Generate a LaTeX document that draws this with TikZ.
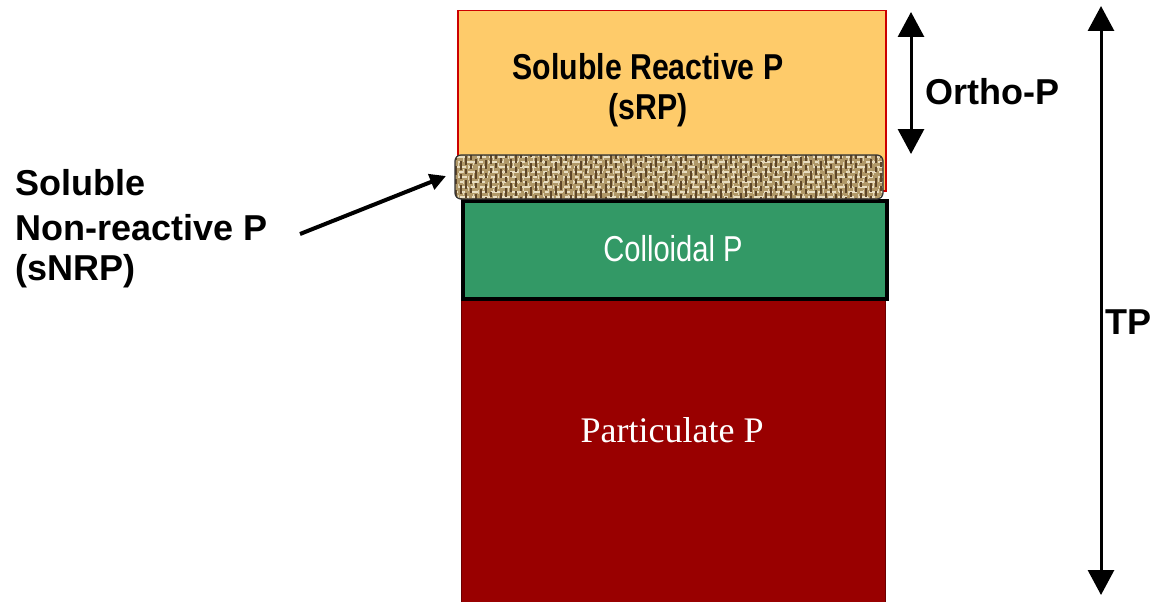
\documentclass[tikz,border=0pt]{standalone}
\usepackage{fontspec}
\setmainfont{Liberation Sans}
\newfontfamily\serifp{Liberation Serif}
\usetikzlibrary{arrows.meta}
\definecolor{srp}{HTML}{FECB6A}
\definecolor{srpedge}{HTML}{CC0000}
\definecolor{coll}{HTML}{339966}
\definecolor{part}{HTML}{990000}
\definecolor{burlap}{HTML}{B09868}
\definecolor{burlapL}{HTML}{EADFC2}
\definecolor{burlapD}{HTML}{5E4628}
\tikzset{
  lbl/.style={font=\bfseries\fontsize{36}{44}\selectfont, inner sep=0pt},
  dimarrow/.style={line width=3pt, {Triangle[width=26pt,length=25pt]}-{Triangle[width=26pt,length=25pt]}},
  ptr/.style={line width=4pt, -{Triangle[width=16pt,length=16pt]}},
}
\begin{document}
\begin{tikzpicture}[x=1pt,y=-1pt]
\useasboundingbox (0,0) rectangle (1154,602);
% Soluble reactive P
\node (srp) [draw=srpedge, line width=1.5pt, fill=srp, minimum width=428pt, minimum height=180pt, anchor=north west, inner sep=0pt] at (457,10) {};
\node (srptext1) [lbl, xscale=0.84] at (648,67) {Soluble Reactive P};
\node (srptext2) [lbl, xscale=0.84] at (648,110) {(sRP)};
% Particulate P
\node (part) [fill=part, draw=part!70!black, line width=1pt, minimum width=424pt, minimum height=310pt, anchor=north west, inner sep=0pt] at (461,297) {};
\node (parttext) [text=white, font=\serifp\fontsize{36}{40}\selectfont, inner sep=0pt] at (672,430) {Particulate P};
% Colloidal P
\node (coll) [fill=coll, draw=black, line width=4pt, minimum width=424pt, minimum height=98pt, anchor=north west, inner sep=0pt] at (461,199) {};
\node (colltext) [text=white, font=\fontsize{36}{40}\selectfont, xscale=0.81, inner sep=0pt] at (673,249) {Colloidal P};
% sNRP texture band
\node (snrp) [fill=burlap, rounded corners=6pt, minimum width=428pt, minimum height=44pt, anchor=north west, inner sep=0pt] at (455,155) {};
\begin{scope}
  \clip[rounded corners=6pt] (455,155) rectangle (883,199);
  \foreach \y in {157,162,...,199} {
    \draw[burlapL, line width=1.8pt, dash pattern=on 9pt off 3pt on 4pt off 5pt, dash phase=\y*2] (455,\y) -- (885,\y);
  }
  \foreach \x in {456,461,...,884} {
    \draw[burlapD, line width=1.2pt, dash pattern=on 5pt off 6pt on 9pt off 4pt, dash phase=\x] (\x,155) -- (\x,199);
    \draw[burlapL!85!burlap, line width=1pt, dash pattern=on 4pt off 7pt, dash phase=\x*3] (\x+2.5,155) -- (\x+2.5,199);
  }
\end{scope}
\draw[black!80, line width=1.2pt, rounded corners=6pt] (455,155) rectangle (883,199);
% Ortho-P arrow
\coordinate (oTop) at (911,12);
\coordinate (oBot) at (911,154);
\draw[dimarrow] (oTop) -- (oBot);
\node (ortho) [lbl, anchor=west] at (925,92) {Ortho-P};
% TP arrow
\coordinate (tTop) at (1101,6);
\coordinate (tBot) at (1101,595);
\draw[dimarrow] (tTop) -- (tBot);
\node (tp) [lbl, anchor=east] at (1152,322) {TP};
% sNRP label
\node (snrp1) [lbl, anchor=west] at (15,183) {Soluble};
\node (snrp2) [lbl, anchor=west] at (15,228) {Non-reactive P};
\node (snrp3) [lbl, anchor=west] at (15,271) {(sNRP)};
\coordinate (ptrStart) at (300,234);
\coordinate (ptrEnd) at (446,176);
\draw[ptr] (ptrStart) -- (ptrEnd);
\end{tikzpicture}
\end{document}
